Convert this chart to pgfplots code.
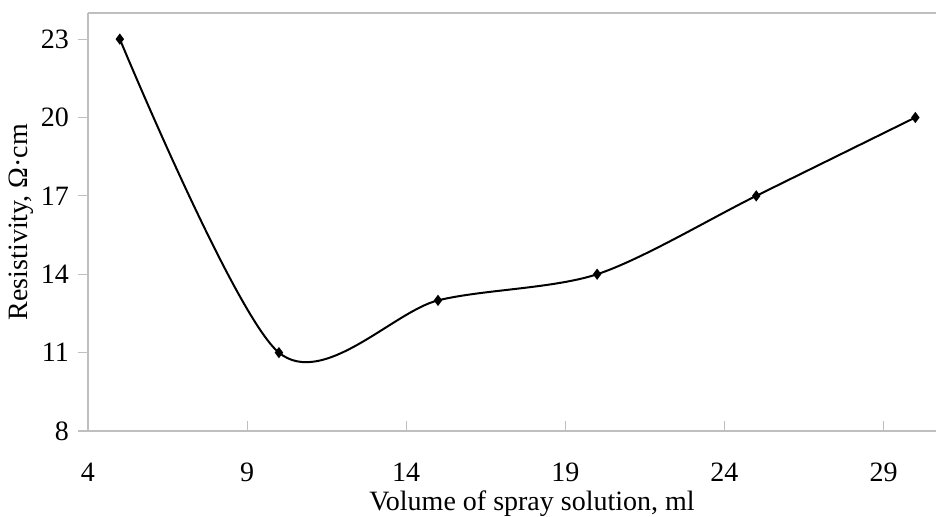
\documentclass[border=0pt]{standalone}
\usepackage{pgfplots}
\pgfplotsset{compat=1.18}
\usepackage{fontspec}
\setmainfont{Liberation Serif}
\usetikzlibrary{calc}
\definecolor{axgray}{RGB}{191,191,191}
\begin{document}
\begin{tikzpicture}
\begin{axis}[
  name=ax,
  scale only axis,
  width=424pt, height=209pt,
  xmin=4, xmax=30.65, ymin=8, ymax=24,
  xtick={4,9,14,19,24,29},
  ytick={8,11,14,17,20,23},
  axis x line*=bottom, axis y line*=left,
  axis line style={axgray, line width=0.8pt},
  x axis line style={-}, y axis line style={-},
  xtick pos=bottom, ytick pos=left,
  major tick length=5pt,
  tick align=inside,
  xtick style={axgray, line width=0.6pt},
  ytick style={axgray, line width=0.6pt, xshift=-5pt},
  x tick label style={yshift=-12.5pt},
  y tick label style={xshift=-6pt},
  /pgf/number format/assume math mode=true,
  tick label style={font=\fontsize{14}{16}\selectfont, black},
  label style={font=\fontsize{14}{16}\selectfont},
  xlabel={Volume of spray solution, ml},
  ylabel={Resistivity, Ω·cm},
  xlabel style={yshift=2.5pt, xshift=10pt},
  ylabel style={yshift=-3pt},
  clip=false,
]
\addplot[black, line width=1pt, smooth, mark=diamond*, mark size=2pt,
  mark options={solid, fill=black}]
  coordinates {(5,23) (10,11) (15,13) (20,14) (25,17) (30,20)};
\draw[axgray, line width=0.8pt] (rel axis cs:0,1) -- (rel axis cs:1,1);
\end{axis}
\pgfresetboundingbox
\useasboundingbox ($(ax.south west)+(-44pt,-43pt)$) rectangle ($(ax.north east)+(0pt,6.5pt)$);
\end{tikzpicture}
\end{document}
